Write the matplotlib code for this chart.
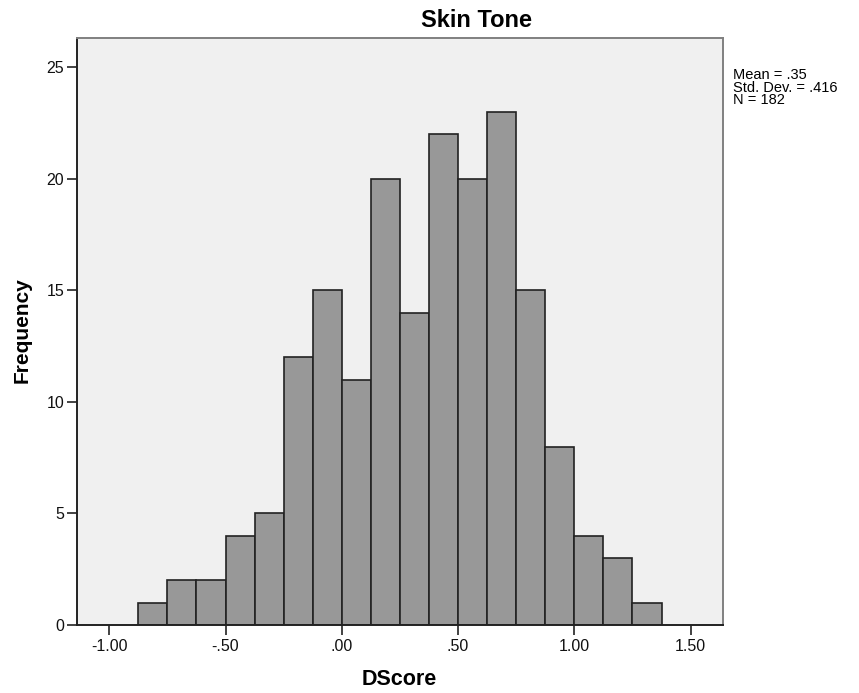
import matplotlib.pyplot as plt
import numpy as np

# --- data ---
bin_lefts = [-0.875, -0.75, -0.625, -0.5, -0.375, -0.25, -0.125, 0.0, 0.125,
             0.25, 0.375, 0.5, 0.625, 0.75, 0.875, 1.0, 1.125, 1.25]
counts = [1, 2, 2, 4, 5, 12, 15, 11, 20, 14, 22, 20, 23, 15, 8, 4, 3, 1]
bin_width = 0.125

x_ticks = [-1.0, -0.5, 0.0, 0.5, 1.0, 1.5]
x_ticklabels = ['-1.00', '-.50', '.00', '.50', '1.00', '1.50']
y_ticks = [0, 5, 10, 15, 20, 25]

stats_text = "Mean = .35\nStd. Dev. = .416\nN = 182"

plt.rcParams['font.family'] = ['Liberation Sans', 'DejaVu Sans']

fig = plt.figure(figsize=(8.59, 6.93), dpi=100)
ax = fig.add_axes([0.0893, 0.0981, 0.752, 0.8475])
ax.set_facecolor('#F0F0F0')

ax.bar(bin_lefts, counts, width=bin_width, align='edge',
       color='#989898', edgecolor='#222222', linewidth=1.2, zorder=2)

ax.set_xlim(-1.14, 1.638)
ax.set_ylim(0, 26.33)

ax.set_xticks(x_ticks)
ax.set_xticklabels(x_ticklabels)
ax.set_yticks(y_ticks)
ax.tick_params(axis='both', direction='out', length=7, width=1.2,
               labelsize=11.5, color='#222222', labelcolor='#111111')
ax.tick_params(axis='x', pad=3)
ax.tick_params(axis='y', pad=2)

for side in ['left', 'bottom']:
    ax.spines[side].set_color('#222222')
    ax.spines[side].set_linewidth(1.4)
for side in ['top', 'right']:
    ax.spines[side].set_color('#808080')
    ax.spines[side].set_linewidth(1.4)

# axis titles placed in figure coordinates
fig.text(0.4653, 0.019, 'DScore', fontsize=15.5, fontweight='bold',
         ha='center', va='center')
fig.text(0.0256, 0.5238, 'Frequency', fontsize=15, fontweight='bold',
         ha='center', va='center', rotation=90)

fig.text(0.555, 0.97, 'Skin Tone', fontsize=17, fontweight='bold',
         ha='center', va='center')
fig.text(0.853, 0.902, stats_text, fontsize=10.5, ha='left', va='top',
         linespacing=0.88)

fig.savefig('out.png', dpi=100)
